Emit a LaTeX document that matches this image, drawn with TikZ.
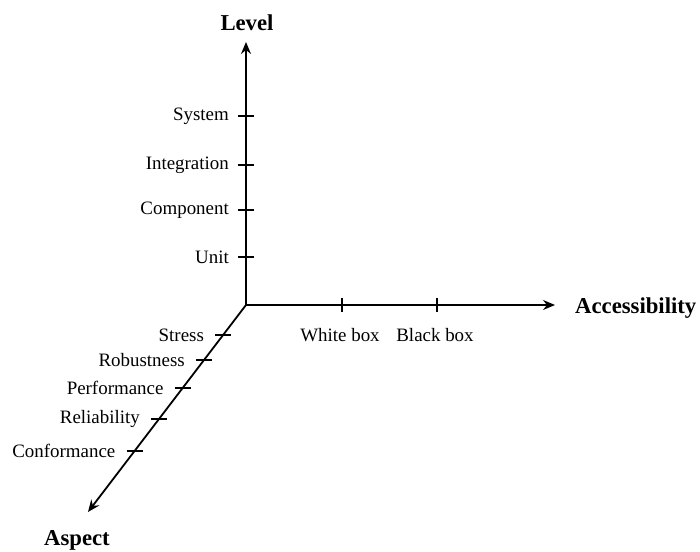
\documentclass[tikz,border=0pt]{standalone}
\usepackage{fontspec}
\setmainfont{Liberation Serif}
\usetikzlibrary{arrows.meta,calc}
\begin{document}
\begin{tikzpicture}[x=1bp,y=-1bp,
  axis/.style={line width=1.8bp,-{Stealth[length=12bp,width=10bp,inset=4bp]}},
  tick/.style={line width=1.6bp},
  lbl/.style={font=\fontsize{19}{21}\selectfont,inner sep=0pt},
  ttl/.style={font=\fontsize{22.8}{25}\selectfont\bfseries,inner sep=0pt}]
\useasboundingbox (0,0) rectangle (700,552);
\coordinate (O) at (246,305);
\coordinate (L) at (246,42);
\coordinate (R) at (555,305);
\coordinate (D) at (88,512);
\draw[axis] (O) -- (L);
\draw[axis] (O) -- (R);
\draw[axis] (O) -- (D);
% level ticks
\foreach \y/\t/\n in {116/System/ls,165/Integration/li,210/Component/lc,257/Unit/lu}{
  \coordinate (\n) at (246,\y);
  \draw[tick] ($(\n)+(-8,0)$) -- ($(\n)+(8,0)$);
  \node[lbl,anchor=east] (\n t) at ($(\n)+(-17,0)$) {\t};
}
% accessibility ticks
\foreach \x/\t/\n in {342/White box/aw,437/Black box/ab}{
  \coordinate (\n) at (\x,305);
  \draw[tick] ($(\n)+(0,-7)$) -- ($(\n)+(0,7)$);
  \node[lbl] (\n t) at ($(\n)+(-2,30)$) {\t};
}
% aspect ticks
\foreach \y/\t/\n in {335/Stress/as,360/Robustness/ar,388/Performance/ap,419/Reliability/al,451/Conformance/ac}{
  \coordinate (\n) at ($(O)!{(\y-305)/207}!(D)$);
  \draw[tick] ($(\n)+(-8,0)$) -- ($(\n)+(8,0)$);
  \node[lbl,anchor=east] (\n t) at ($(\n)+(-19,0)$) {\t};
}
\node[ttl] (lev) at (247,23) {Level};
\node[ttl,anchor=west] (acc) at (575,308) {Accessibility};
\node[ttl] (asp) at (77,540) {Aspect};
\end{tikzpicture}
\end{document}
